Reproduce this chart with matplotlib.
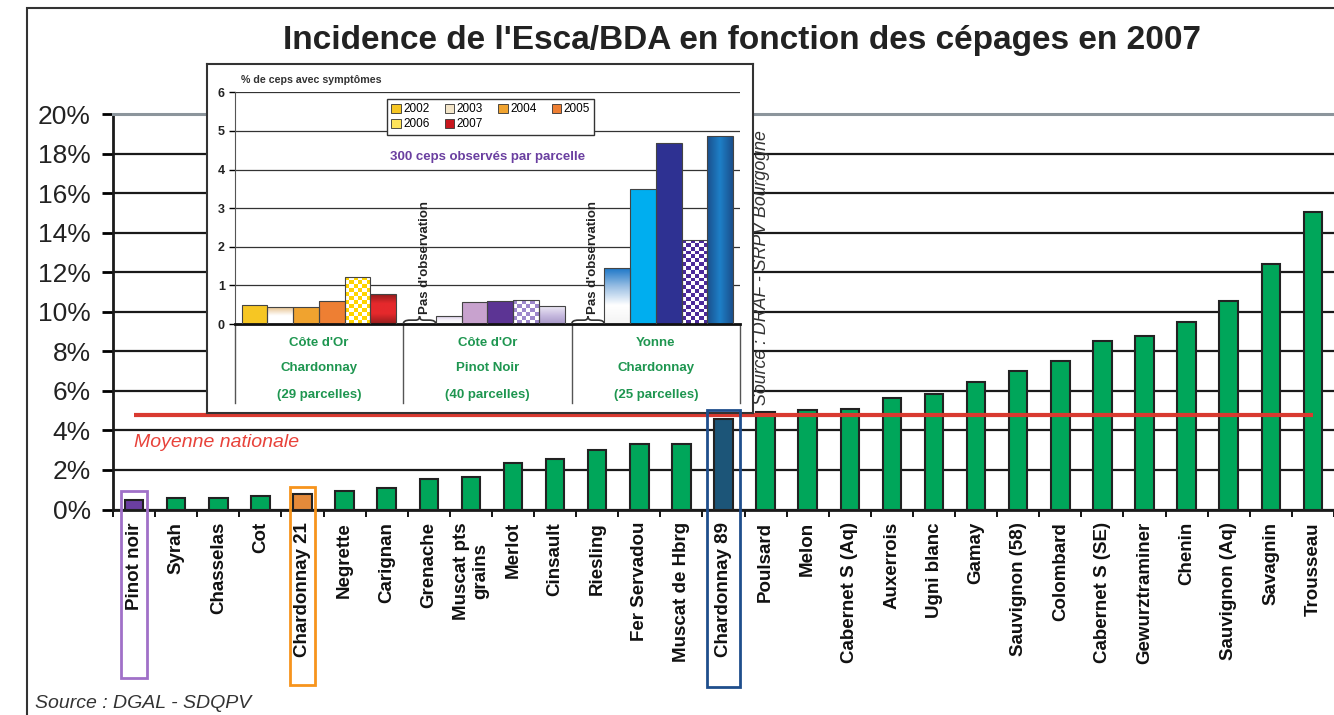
import numpy as np
import matplotlib.pyplot as plt
import matplotlib.transforms as mtransforms
from matplotlib.patches import Rectangle, Patch, PathPatch
from matplotlib.path import Path
from matplotlib.colors import to_rgb

plt.rcParams['font.family'] = ['Liberation Sans', 'DejaVu Sans']

# main chart: incidence (% of vines) per grape variety, 2007
cepages = ['Pinot noir', 'Syrah', 'Chasselas', 'Cot', 'Chardonnay 21', 'Negrette',
           'Carignan', 'Grenache', 'Muscat pts\ngrains', 'Merlot', 'Cinsault', 'Riesling',
           'Fer Servadou', 'Muscat de Hbrg', 'Chardonnay 89', 'Poulsard', 'Melon',
           'Cabernet S (Aq)', 'Auxerrois', 'Ugni blanc', 'Gamay', 'Sauvignon (58)',
           'Colombard', 'Cabernet S (SE)', 'Gewurztraminer', 'Chenin', 'Sauvignon (Aq)',
           'Savagnin', 'Trousseau']
incidence = [0.47, 0.59, 0.59, 0.67, 0.76, 0.93, 1.1, 1.52, 1.63, 2.36, 2.58, 3.0,
             3.3, 3.3, 4.6, 4.94, 5.03, 5.08, 5.65, 5.87, 6.46, 7.0, 7.5, 8.54, 8.77,
             9.5, 10.55, 12.4, 15.07]
moyenne_nationale = 4.8

# inset: % de ceps avec symptomes, Bourgogne plots 2002-2007
annees = ['2002', '2003', '2004', '2005', '2006', '2007']
region = ["Côte d'Or", "Côte d'Or", 'Yonne']
cepage_suivi = ['Chardonnay', 'Pinot Noir', 'Chardonnay']
nb_parcelles = ['(29 parcelles)', '(40 parcelles)', '(25 parcelles)']
cdo_chardonnay = [0.48, 0.44, 0.43, 0.60, 1.23, 0.78]
cdo_pinot_noir = [None, 0.22, 0.57, 0.60, 0.61, 0.46]
yonne_chardonnay = [None, 1.45, 3.50, 4.70, 2.18, 4.88]

GREEN = '#00A65A'
highlight = {'Pinot noir': '#6B3FA0', 'Chardonnay 21': '#E48A3A', 'Chardonnay 89': '#1C5578'}

# fill styles of the inset bars, one list per group
styles = [
    [('solid', '#F6C623'), ('vgrad', ['#E6C28E', '#FFFFFF', '#FFFFFF']), ('solid', '#F0A32F'),
     ('solid', '#EE7F33'), ('checker', ('#FFD400', '#FFFFFF')),
     ('vgrad', ['#8A1A1A', '#E5292C', '#E5292C', '#961E1E'])],
    [None, ('vgrad', ['#CDBDE0', '#F4F0F8', '#FFFFFF']), ('solid', '#C8A2CE'),
     ('solid', '#5C3494'), ('checker', ('#9E88CC', '#FFFFFF')),
     ('vgrad', ['#ECE8F4', '#C8BCE0', '#A898C8'])],
    [None, ('vgrad', ['#1F78C8', '#9CC0E4', '#FFFFFF', '#F4F4F4']), ('solid', '#00AEEF'),
     ('solid', '#2E3192'), ('checker', ('#4B2A9A', '#FFFFFF')),
     ('hgrad', ['#1A4F8C', '#1E80C8', '#1A4F8C'])],
]
legend_colors = ['#F6C623', '#F3E5C8', '#F0A32F', '#EE7F33', '#FFE45A', '#C8161D']


def gradient_image(colors, n=64, horizontal=False):
    cols = np.array([to_rgb(c) for c in colors])
    pos = np.linspace(0, 1, len(cols))
    t = np.linspace(0, 1, n)
    arr = np.stack([np.interp(t, pos, cols[:, k]) for k in range(3)], axis=-1)
    return arr[np.newaxis, :, :] if horizontal else arr[:, np.newaxis, :]


def checker_image(c1, c2, nx, ny):
    grid = np.add.outer(np.arange(ny), np.arange(nx)) % 2
    return np.where(grid[..., None] == 0, np.array(to_rgb(c1)), np.array(to_rgb(c2)))


def paint(ax, bar, img, interp='bilinear'):
    x0, w, h = bar.get_x(), bar.get_width(), bar.get_height()
    im = ax.imshow(img, extent=[x0, x0 + w, 0, h], aspect='auto', origin='upper',
                   interpolation=interp, zorder=2.5)
    im.set_clip_path(bar)


def brace(ax, x0, x1, h):
    w = x1 - x0
    xm = (x0 + x1) / 2
    verts = [(x0, 0), (x0, h * 0.5), (x0 + 0.2 * w, h * 0.5),
             (xm - 0.12 * w, h * 0.5), (xm, h * 0.5), (xm, h),
             (xm, h * 0.5), (xm + 0.12 * w, h * 0.5),
             (x1 - 0.2 * w, h * 0.5), (x1, h * 0.5), (x1, 0)]
    codes = [Path.MOVETO, Path.CURVE3, Path.CURVE3, Path.LINETO, Path.CURVE3, Path.CURVE3,
             Path.CURVE3, Path.CURVE3, Path.LINETO, Path.CURVE3, Path.CURVE3]
    ax.add_patch(PathPatch(Path(verts, codes), fill=False, ec='#333', lw=1.2, zorder=4))


W, H = 1334, 715
fig = plt.figure(figsize=(W / 100, H / 100), dpi=100)

# ---------- main chart ----------
ax = fig.add_axes([113 / W, 1 - 509.5 / H, 1 - 113 / W, (509.5 - 114.3) / H])
x = np.arange(len(cepages))
bar_colors = [highlight.get(c, GREEN) for c in cepages]
ax.bar(x, incidence, width=0.44, color=bar_colors, edgecolor='#222', lw=1.5, zorder=3)
ax.hlines(moyenne_nationale, x[0], x[-1], color='#D93A30', lw=3, zorder=4)
ax.text(0, 3.4, 'Moyenne nationale', color='#E8423A', style='italic', fontsize=14,
        ha='left', va='center')

ax.set_xlim(-0.5, len(cepages) - 0.5)
ax.set_ylim(0, 20)
ax.set_yticks(np.arange(0, 21, 2))
ax.set_yticklabels([f'{v}%' for v in range(0, 21, 2)], fontsize=19, color='#222')
ax.tick_params(axis='y', length=8, width=2, pad=8, direction='out')
ax.yaxis.grid(True, color='#1a1a1a', lw=1.6)
ax.set_axisbelow(True)
ax.set_xticks(x)
ax.set_xticklabels(cepages, rotation=90, fontsize=13.5, fontweight='bold',
                   multialignment='center', color='#111')
ax.set_xticks(np.arange(len(cepages) + 1) - 0.5, minor=True)
ax.tick_params(axis='x', which='major', length=0, pad=9)
ax.tick_params(axis='x', which='minor', length=5, width=1.3)
for s in ['left', 'bottom']:
    ax.spines[s].set_linewidth(2)
    ax.spines[s].set_color('#1a1a1a')
ax.spines['top'].set_color('#8C959C')
ax.spines['top'].set_linewidth(2.2)
ax.spines['right'].set_visible(False)

# boxes around the highlighted labels
trans = mtransforms.blended_transform_factory(ax.transData, fig.transFigure)
for name, col, bw, ytop, ybot in [('Pinot noir', '#A070C8', 0.6, 491, 678),
                                  ('Chardonnay 21', '#F7941D', 0.6, 487, 685),
                                  ('Chardonnay 89', '#1F4E8C', 0.78, 410, 687)]:
    i = cepages.index(name)
    fig.add_artist(Rectangle((i - bw / 2, 1 - ybot / H), bw, (ybot - ytop) / H,
                             transform=trans, fill=False, ec=col, lw=2))

# ---------- inset ----------
frame = fig.add_axes([207 / W, 1 - 413 / H, 546 / W, 349 / H])
frame.set_xticks([])
frame.set_yticks([])
for s in frame.spines.values():
    s.set_color('#333')
    s.set_linewidth(1.5)

ins = fig.add_axes([234.7 / W, 1 - 324 / H, 505.3 / W, 231.7 / H])
ins.patch.set_alpha(0)
bw = 0.153
for g, serie in enumerate([cdo_chardonnay, cdo_pinot_noir, yonne_chardonnay]):
    for k, v in enumerate(serie):
        xc = g + (k - 2.5) * bw
        if v is None:
            brace(ins, xc - bw / 2 - 0.04, xc + bw / 2, 0.2)
            ins.text(xc + 0.01, 0.27, "Pas d'observation", rotation=90, ha='center',
                     va='bottom', fontsize=9.5, fontweight='bold', color='#222')
            continue
        kind, spec = styles[g][k]
        base = spec if kind == 'solid' else (spec[0] if kind == 'checker' else spec[1])
        bar = ins.bar(xc, v, width=bw, color=base, edgecolor='none', zorder=2)[0]
        if kind == 'vgrad':
            paint(ins, bar, gradient_image(spec))
        elif kind == 'hgrad':
            paint(ins, bar, gradient_image(spec, horizontal=True))
        elif kind == 'checker':
            paint(ins, bar, checker_image(spec[0], spec[1], 6, max(2, int(round(v / 0.1)))),
                  interp='nearest')
        ins.bar(xc, v, width=bw, fill=False, edgecolor='#444', lw=0.8, zorder=3)

ins.set_xlim(-0.5, 2.5)
ins.set_ylim(0, 6)
ins.set_xticks([])
ins.set_yticks(range(7))
ins.tick_params(axis='y', length=4, width=1, labelsize=9, pad=3)
for lab in ins.get_yticklabels():
    lab.set_fontweight('bold')
    lab.set_color('#222')
ins.yaxis.grid(True, color='#333', lw=0.9)
ins.set_axisbelow(True)
ins.spines['top'].set_visible(False)
ins.spines['right'].set_visible(False)
ins.spines['left'].set_color('#555')
ins.spines['bottom'].set_linewidth(2)
ins.spines['bottom'].set_color('#111')

tr_in = mtransforms.blended_transform_factory(ins.transData, ins.transAxes)
for xs in [-0.5, 0.5, 1.5, 2.5]:
    ins.plot([xs, xs], [0, -0.341], transform=tr_in, color='#555', lw=1, clip_on=False)
for g in range(3):
    for txt, yy in [(region[g], -0.082), (cepage_suivi[g], -0.192), (nb_parcelles[g], -0.307)]:
        ins.text(g, yy, txt, transform=tr_in, ha='center', va='center', fontsize=9.5,
                 fontweight='bold', color='#1E9650')

ins.text(1, 4.33, '300 ceps observés par parcelle', ha='center', va='center',
         fontsize=9.5, fontweight='bold', color='#6A3FA0')
fig.text(241 / W, 1 - 80 / H, '% de ceps avec symptômes', fontsize=7.7,
         fontweight='bold', color='#333', va='center')

handles = [Patch(facecolor=c, edgecolor='#333', lw=0.6) for c in legend_colors]
order = [0, 4, 1, 5, 2, 3]
leg = ins.legend([handles[i] for i in order], [annees[i] for i in order], ncol=4,
                 loc='upper left', bbox_to_anchor=(0.29, 0.995), fontsize=8.5,
                 handlelength=0.8, handleheight=0.8, handletextpad=0.2,
                 columnspacing=1.3, labelspacing=0.25, borderpad=0.35,
                 fancybox=False, framealpha=1, edgecolor='#333')
leg.get_frame().set_linewidth(1)

# ---------- texts and outer frame ----------
fig.text(742 / W, 1 - 40 / H, "Incidence de l'Esca/BDA en fonction des cépages en 2007",
         ha='center', va='center', fontsize=24, fontweight='bold', color='#222')
fig.text(762 / W, 1 - 405 / H, 'Source : DRAF - SRPV Bourgogne', rotation=90,
         ha='center', va='bottom', fontsize=12.8, style='italic', color='#333')
fig.text(35 / W, 1 - 703 / H, 'Source : DGAL - SDQPV', ha='left', va='center',
         fontsize=14, style='italic', color='#333')
fig.add_artist(Rectangle((27 / W, -0.1), 1.1, 1 - 8 / H + 0.1, transform=fig.transFigure,
                         fill=False, ec='#333', lw=1.5))

fig.savefig('out.png', dpi=100)
